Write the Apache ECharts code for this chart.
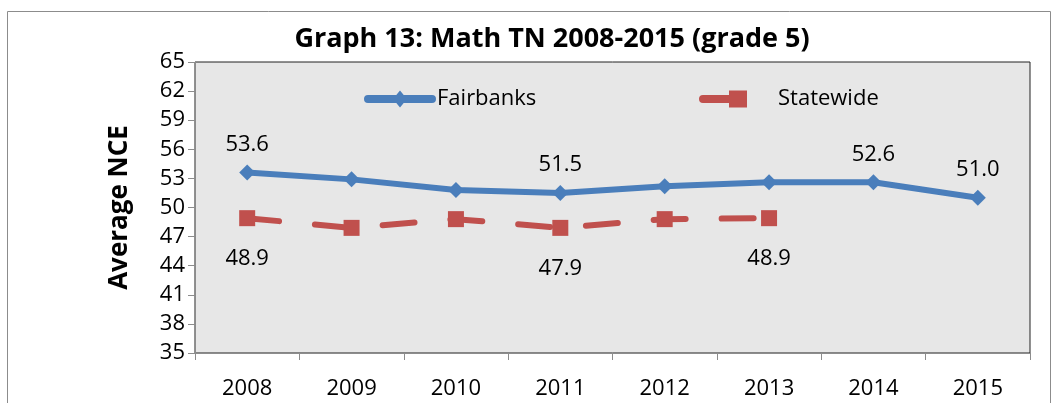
<!DOCTYPE html>
<html><head><meta charset="utf-8">
<script src="https://cdn.jsdelivr.net/npm/echarts@6/dist/echarts.min.js"></script>
<style>html,body{margin:0;padding:0;background:#fff}#c{width:1054px;height:403px}</style>
</head><body><div id="c"></div>
<script>
const categories = ['2008','2009','2010','2011','2012','2013','2014','2015'];
const fairbanks = [53.6, 52.9, 51.8, 51.5, 52.2, 52.6, 52.6, 51.0];
const statewide = [48.9, 47.9, 48.8, 47.9, 48.8, 48.9, null, null];
const fairbanksLabelled = [0, 3, 6, 7];
const statewideLabelled = [0, 3, 5];
const yTicks = [35, 38, 41, 44, 47, 50, 53, 56, 59, 62, 65];

const FONT = 'Open Sans';
const BLUE = '#4a7ebb', RED = '#c0504d';
const chart = echarts.init(document.getElementById('c'), null, {renderer: 'canvas'});
chart.setOption({
  animation: false,
  textStyle: {fontFamily: FONT},
  title: {
    text: 'Graph 13: Math TN 2008-2015 (grade 5)',
    left: 547, top: 21, textAlign: 'center',
    textStyle: {fontFamily: FONT, fontWeight: 'bold', fontSize: 27, color: '#000'}
  },
  graphic: [{
    type: 'rect', shape: {x: 7.5, y: 11.5, width: 1043, height: 400},
    style: {fill: 'none', stroke: '#8c8c8c', lineWidth: 1}, silent: true, z: -1
  }],
  legend: [{
    data: [{name: 'Fairbanks', icon: 'path://M4,4.5 L68,4.5 A4,4 0 0 1 68,12.5 L4,12.5 A4,4 0 0 1 4,4.5 Z M36,0 L43,8.5 L36,17 L29,8.5 Z'}],
    left: 359, top: 83, itemWidth: 72, itemHeight: 17, itemGap: 0,
    textStyle: {fontFamily: FONT, fontSize: 22, color: '#000', padding: [0,0,0,-4]}
  }, {
    data: [{name: 'Statewide', icon: 'path://M4,4.5 L34,4.5 L34,12.5 L4,12.5 A4,4 0 0 1 4,4.5 Z M30,0 L48,0 L48,17 L30,17 Z'}],
    left: 694, top: 83, itemWidth: 48, itemHeight: 17,
    textStyle: {fontFamily: FONT, fontSize: 22, color: '#000', padding: [0,0,0,26]}
  }],
  grid: {
    left: 195, right: 24, top: 62, bottom: 50, show: true,
    backgroundColor: '#e7e7e7', borderColor: '#222', borderWidth: 1
  },
  xAxis: {
    type: 'category', data: categories, boundaryGap: true,
    axisLine: {lineStyle: {color: '#8c8c8c', width: 1}},
    axisTick: {show: true, length: 7, lineStyle: {color: '#8c8c8c'}},
    axisLabel: {fontFamily: FONT, fontSize: 22, color: '#000', margin: 25}
  },
  yAxis: {
    type: 'value', min: yTicks[0], max: yTicks[yTicks.length-1], interval: 3,
    name: 'Average NCE', nameLocation: 'middle', nameGap: 62, nameRotate: 90,
    nameTextStyle: {fontFamily: FONT, fontWeight: 'bold', fontSize: 26, color: '#000'},
    axisLine: {show: true, lineStyle: {color: '#8c8c8c', width: 1}},
    axisTick: {show: true, length: 7, lineStyle: {color: '#8c8c8c'}},
    splitLine: {show: false},
    axisLabel: {fontFamily: FONT, fontSize: 22, color: '#000', margin: 10}
  },
  series: [{
    name: 'Fairbanks', type: 'line', data: fairbanks,
    symbol: 'diamond', symbolSize: 16, showAllSymbol: true,
    lineStyle: {color: BLUE, width: 6, cap: 'round', join: 'round'},
    itemStyle: {color: BLUE},
    label: {
      show: true, position: 'top', distance: 9, fontFamily: FONT, fontSize: 22, color: '#000',
      formatter: p => fairbanksLabelled.includes(p.dataIndex) ? p.value.toFixed(1) : ''
    }
  }, {
    name: 'Statewide', type: 'line', data: statewide,
    symbol: 'rect', symbolSize: 16, showAllSymbol: true,
    lineStyle: {color: RED, width: 6, type: [32, 36], cap: 'round'},
    itemStyle: {color: RED},
    label: {
      show: true, position: 'bottom', distance: 22, fontFamily: FONT, fontSize: 22, color: '#000',
      formatter: p => statewideLabelled.includes(p.dataIndex) ? p.value.toFixed(1) : ''
    }
  }]
});
</script></body></html>
